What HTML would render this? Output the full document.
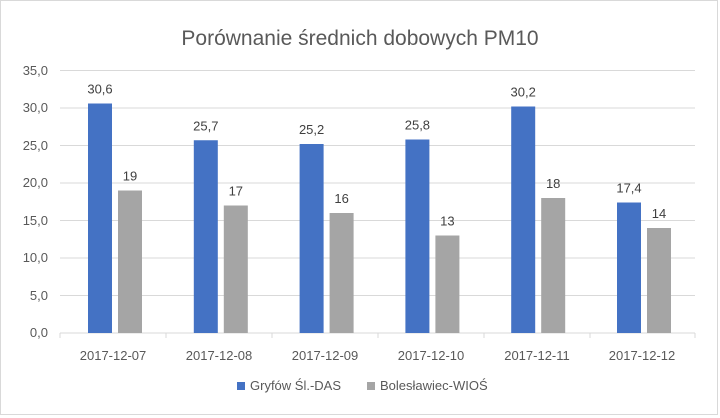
<!DOCTYPE html><html><head><style>body{margin:0;background:#fff}svg{display:block;font-family:"Liberation Sans",sans-serif}</style></head><body>
<svg width="720" height="418" viewBox="0 0 720 418">
<rect x="0.5" y="0.5" width="717" height="414" fill="#fff" stroke="#d9d9d9"/>
<text x="360" y="45" text-anchor="middle" font-size="21" fill="#595959">Porównanie średnich dobowych PM10</text>
<g stroke="#d9d9d9" stroke-width="1">
<line x1="60" x2="695" y1="70.5" y2="70.5"/><line x1="60" x2="695" y1="108" y2="108"/><line x1="60" x2="695" y1="145.5" y2="145.5"/><line x1="60" x2="695" y1="183" y2="183"/><line x1="60" x2="695" y1="220.5" y2="220.5"/><line x1="60" x2="695" y1="258" y2="258"/><line x1="60" x2="695" y1="295.5" y2="295.5"/><line x1="60" x2="695" y1="333" y2="333"/>
<line x1="60" x2="60" y1="333" y2="338"/><line x1="166" x2="166" y1="333" y2="338"/><line x1="272" x2="272" y1="333" y2="338"/><line x1="378" x2="378" y1="333" y2="338"/><line x1="484" x2="484" y1="333" y2="338"/><line x1="590" x2="590" y1="333" y2="338"/><line x1="695" x2="695" y1="333" y2="338"/>
</g>
<g font-size="13" fill="#595959" text-anchor="end">
<text x="48" y="75">35,0</text><text x="48" y="112">30,0</text><text x="48" y="150">25,0</text><text x="48" y="187">20,0</text><text x="48" y="225">15,0</text><text x="48" y="262">10,0</text><text x="48" y="300">5,0</text><text x="48" y="337">0,0</text>
</g>
<g fill="#4472c4">
<rect x="88" y="103.5" width="24" height="229.5"/>
<rect x="193.8" y="140.25" width="24" height="192.75"/>
<rect x="299.6" y="144" width="24" height="189"/>
<rect x="405.4" y="139.5" width="24" height="193.5"/>
<rect x="511.2" y="106.5" width="24" height="226.5"/>
<rect x="617" y="202.5" width="24" height="130.5"/>
</g>
<g fill="#a5a5a5">
<rect x="118" y="190.5" width="24" height="142.5"/>
<rect x="223.8" y="205.5" width="24" height="127.5"/>
<rect x="329.6" y="213" width="24" height="120"/>
<rect x="435.4" y="235.5" width="24" height="97.5"/>
<rect x="541.2" y="198" width="24" height="135"/>
<rect x="647" y="228" width="24" height="105"/>
</g>
<g font-size="13" fill="#404040" text-anchor="middle">
<text x="100" y="93.5">30,6</text><text x="205.8" y="130.25">25,7</text><text x="311.6" y="134">25,2</text><text x="417.4" y="129.5">25,8</text><text x="523.2" y="96.5">30,2</text><text x="629" y="192.5">17,4</text>
<text x="130" y="180.5">19</text><text x="235.8" y="195.5">17</text><text x="341.6" y="203">16</text><text x="447.4" y="225.5">13</text><text x="553.2" y="188">18</text><text x="659" y="218">14</text>
</g>
<g font-size="13" fill="#595959" text-anchor="middle">
<text x="113" y="360">2017-12-07</text><text x="219" y="360">2017-12-08</text><text x="325" y="360">2017-12-09</text><text x="431" y="360">2017-12-10</text><text x="537" y="360">2017-12-11</text><text x="642" y="360">2017-12-12</text>
</g>
<rect x="237" y="382" width="8" height="8" fill="#4472c4"/><text x="250" y="390" font-size="13" fill="#595959">Gryfów Śl.-DAS</text>
<rect x="367" y="382" width="8" height="8" fill="#a5a5a5"/><text x="380" y="390" font-size="13" fill="#595959">Bolesławiec-WIOŚ</text>
</svg></body></html>
